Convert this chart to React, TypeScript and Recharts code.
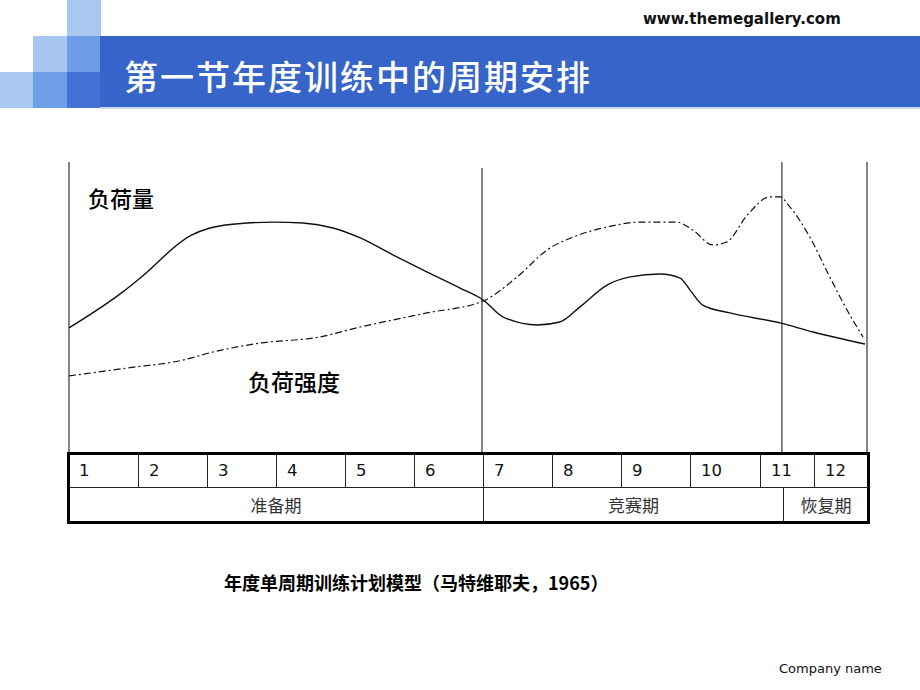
import { LineChart, Line, XAxis, YAxis, ReferenceLine } from "recharts";

// 负荷量 (solid) — x in months from the start of the year, v in relative units (0-100)
const loadVolume = [
  { x: 0, v: 42.7 },
  { x: 0.81, v: 55.0 },
  { x: 1.07, v: 59.7 },
  { x: 1.82, v: 74.1 },
  { x: 2.12, v: 76.8 },
  { x: 2.68, v: 78.5 },
  { x: 3.07, v: 78.8 },
  { x: 3.52, v: 78.5 },
  { x: 3.97, v: 76.8 },
  { x: 4.38, v: 73.4 },
  { x: 4.87, v: 67.6 },
  { x: 5.38, v: 61.8 },
  { x: 5.88, v: 56.3 },
  { x: 6.23, v: 52.2 },
  { x: 6.53, v: 46.4 },
  { x: 7.04, v: 43.7 },
  { x: 7.38, v: 44.7 },
  { x: 7.68, v: 49.8 },
  { x: 8.09, v: 57.3 },
  { x: 8.44, v: 60.1 },
  { x: 8.89, v: 61.1 },
  { x: 9.19, v: 59.7 },
  { x: 9.34, v: 55.6 },
  { x: 9.53, v: 50.5 },
  { x: 9.94, v: 47.8 },
  { x: 10.69, v: 44.4 },
  { x: 11.19, v: 41.3 },
  { x: 11.97, v: 37.2 },
];

// 负荷强度 (dash-dot)
const loadIntensity = [
  { x: 0, v: 26.3 },
  { x: 0.87, v: 29.0 },
  { x: 1.71, v: 31.7 },
  { x: 2.17, v: 34.5 },
  { x: 2.87, v: 37.5 },
  { x: 3.77, v: 39.6 },
  { x: 4.38, v: 43.0 },
  { x: 4.87, v: 45.4 },
  { x: 5.38, v: 47.8 },
  { x: 6.23, v: 51.9 },
  { x: 6.74, v: 60.1 },
  { x: 7.19, v: 69.3 },
  { x: 7.58, v: 73.7 },
  { x: 8.09, v: 77.1 },
  { x: 8.59, v: 78.8 },
  { x: 9.14, v: 78.8 },
  { x: 9.38, v: 76.1 },
  { x: 9.68, v: 71.0 },
  { x: 9.89, v: 72.0 },
  { x: 10.2, v: 81.2 },
  { x: 10.54, v: 87.4 },
  { x: 10.69, v: 87.4 },
  { x: 10.84, v: 84.0 },
  { x: 11.14, v: 73.7 },
  { x: 11.44, v: 60.1 },
  { x: 11.7, v: 48.8 },
  { x: 11.94, v: 39.6 },
];

// phase boundaries (months) and the height each divider line reaches
const boundaries = [
  { x: 0, top: 99.3 },
  { x: 6.21, top: 97.3 },
  { x: 10.72, top: 99.3 },
  { x: 12, top: 99.3 },
];

const months = ["1", "2", "3", "4", "5", "6", "7", "8", "9", "10", "11", "12"];
const phases = ["准备期", "竞赛期", "恢复期"];

const cjk = '"Noto Sans CJK SC", "Noto Sans", sans-serif';
const latin = '"DejaVu Sans", Verdana, sans-serif';

// table column edges (px)
const colEdges = [69, 138, 207, 276, 345, 414, 483, 552, 621, 690, 760, 814, 868];
const phaseEdges = [69, 483, 783, 868];

function Header() {
  const sq = (l: number, t: number, c: string) => (
    <div style={{ position: "absolute", left: l, top: t, width: 34, height: 36, background: c }} />
  );
  return (
    <>
      <div
        style={{
          position: "absolute",
          left: 643,
          top: 10,
          fontFamily: latin,
          fontWeight: "bold",
          fontSize: 15,
          color: "#111",
        }}
      >
        www.themegallery.com
      </div>
      {sq(67, 0, "#a9c8f1")}
      {sq(33, 36, "#a7c6f1")}
      {sq(67, 36, "#6e9de8")}
      {sq(0, 72, "#a9c8f2")}
      {sq(33, 72, "#709fe9")}
      {sq(67, 72, "#4272d4")}
      <div
        style={{
          position: "absolute",
          left: 100,
          top: 36,
          width: 820,
          height: 71,
          background: "#3664c9",
        }}
      />
      <div
        style={{
          position: "absolute",
          left: 100,
          top: 107,
          width: 820,
          height: 2,
          background: "#c9d9f2",
        }}
      />
      <div
        style={{
          position: "absolute",
          left: 124,
          top: 52,
          fontFamily: cjk,
          fontSize: 34,
          fontWeight: 500,
          letterSpacing: 2,
          color: "#fff",
          lineHeight: "48px",
          whiteSpace: "nowrap",
        }}
      >
        第一节年度训练中的周期安排
      </div>
    </>
  );
}

function PhaseTable() {
  const line = "1.5px solid #222";
  return (
    <div
      style={{
        position: "absolute",
        left: 67,
        top: 452,
        width: 803,
        height: 72,
        border: "3px solid #000",
        boxSizing: "border-box",
      }}
    >
      {months.map((m, i) => (
        <div
          key={m}
          style={{
            position: "absolute",
            left: colEdges[i] - 70,
            top: 0,
            width: colEdges[i + 1] - colEdges[i],
            height: 33,
            borderLeft: i === 0 ? "none" : line,
            borderBottom: line,
            boxSizing: "border-box",
            fontFamily: latin,
            fontSize: 16.5,
            lineHeight: "31px",
            paddingLeft: 10,
            color: "#111",
          }}
        >
          {m}
        </div>
      ))}
      {phases.map((p, i) => (
        <div
          key={p}
          style={{
            position: "absolute",
            left: phaseEdges[i] - 70,
            top: 33,
            width: phaseEdges[i + 1] - phaseEdges[i],
            height: 33,
            borderLeft: i === 0 ? "none" : line,
            boxSizing: "border-box",
            fontFamily: cjk,
            fontSize: 17,
            lineHeight: "33px",
            textAlign: "center",
            color: "#333",
          }}
        >
          {p}
        </div>
      ))}
    </div>
  );
}

export default function App() {
  return (
    <div
      style={{
        position: "absolute",
        left: 0,
        top: 0,
        width: 920,
        height: 690,
        background: "#fff",
        overflow: "hidden",
      }}
    >
      <Header />
      <div style={{ position: "absolute", left: 50, top: 150 }}>
        <LineChart
          width={840}
          height={310}
          margin={{ top: 10, right: 23, left: 19, bottom: 7 }}
        >
          <XAxis type="number" dataKey="x" domain={[0, 12]} hide />
          <YAxis type="number" domain={[0, 100]} hide />
          {boundaries.map((b) => (
            <ReferenceLine
              key={b.x}
              segment={[
                { x: b.x, y: b.top },
                { x: b.x, y: 0 },
              ]}
              stroke="#666"
              strokeWidth={1.6}
            />
          ))}
          <Line
            data={loadVolume}
            dataKey="v"
            type="monotone"
            stroke="#111"
            strokeWidth={1.4}
            dot={false}
            isAnimationActive={false}
          />
          <Line
            data={loadIntensity}
            dataKey="v"
            type="monotone"
            stroke="#111"
            strokeWidth={1.2}
            strokeDasharray="7 3 2 3"
            dot={false}
            isAnimationActive={false}
          />
        </LineChart>
      </div>
      <div
        style={{
          position: "absolute",
          left: 88,
          top: 182,
          fontFamily: cjk,
          fontSize: 22,
          fontWeight: 500,
          lineHeight: "30px",
          color: "#000",
        }}
      >
        负荷量
      </div>
      <div
        style={{
          position: "absolute",
          left: 248,
          top: 366,
          fontFamily: cjk,
          fontSize: 23,
          fontWeight: 500,
          lineHeight: "30px",
          color: "#000",
        }}
      >
        负荷强度
      </div>
      <PhaseTable />
      <div
        style={{
          position: "absolute",
          left: 224,
          top: 569,
          fontFamily: cjk,
          fontWeight: "bold",
          fontSize: 18,
          lineHeight: "26px",
          color: "#000",
          whiteSpace: "nowrap",
        }}
      >
        年度单周期训练计划模型（马特维耶夫，1965）
      </div>
      <div
        style={{
          position: "absolute",
          left: 779,
          top: 661,
          fontFamily: latin,
          fontSize: 13,
          color: "#111",
        }}
      >
        Company name
      </div>
    </div>
  );
}
